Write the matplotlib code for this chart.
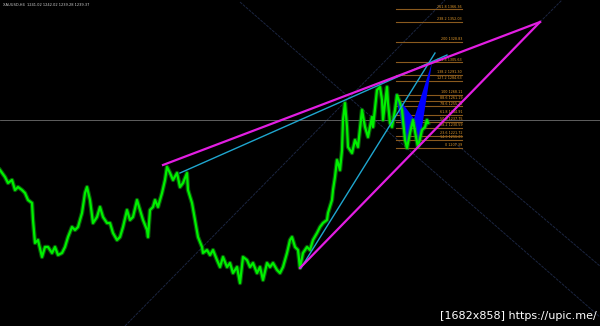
import matplotlib
matplotlib.use("Agg")
import matplotlib.pyplot as plt

# price path (bar index, price)
bars = [0, 5, 8, 12, 15, 18, 22, 25, 28, 32, 33, 35, 38, 42, 45, 48, 52, 55, 58, 62,
        65, 68, 72, 75, 78, 82, 85, 87, 90, 93, 97, 100, 103, 107, 110, 113, 117, 120, 123, 127,
        130, 133, 137, 140, 143, 147, 148, 150, 153, 155, 158, 162, 165, 167, 170, 173, 177, 180, 183, 187,
        188, 192, 195, 198, 202, 203, 207, 210, 213, 217, 220, 223, 227, 230, 233, 237, 240, 243, 247, 250,
        253, 257, 260, 263, 267, 270, 273, 277, 280, 283, 287, 290, 292, 295, 298, 300, 303, 307, 310, 313,
        317, 320, 323, 327, 328, 332, 333, 335, 337, 338, 340, 342, 343, 345, 347, 348, 352, 355, 358, 362,
        365, 368, 372, 373, 377, 380, 382, 383, 387, 388, 390, 392, 395, 397, 400, 402, 405, 407, 410, 413,
        416, 418, 422, 425, 427, 428]
prices = [1182.1, 1174.1, 1167.2, 1170.7, 1159.2, 1162.6, 1159.2, 1155.7, 1147.7, 1144.3,
          1124.8, 1098.4, 1101.8, 1082.3, 1093.8, 1093.8, 1086.9, 1093.8, 1084.6, 1086.9,
          1093.8, 1105.2, 1116.7, 1113.3, 1116.7, 1132.8, 1155.7, 1162.6, 1147.7, 1121.3,
          1128.2, 1139.7, 1128.2, 1121.3, 1121.3, 1109.8, 1101.8, 1105.2, 1116.7, 1136.2,
          1124.8, 1128.2, 1147.7, 1136.2, 1124.8, 1113.3, 1105.2, 1136.2, 1139.7, 1147.7,
          1139.7, 1155.7, 1170.7, 1185.6, 1178.7, 1170.7, 1178.7, 1162.6, 1167.2, 1178.7,
          1159.2, 1144.3, 1124.8, 1105.2, 1093.8, 1086.9, 1090.3, 1084.6, 1090.3, 1078.8,
          1070.8, 1082.3, 1070.8, 1075.4, 1063.9, 1070.8, 1052.4, 1082.3, 1078.8, 1070.8,
          1075.4, 1063.9, 1070.8, 1055.9, 1075.4, 1070.8, 1075.4, 1067.4, 1063.9, 1070.8,
          1086.9, 1101.8, 1105.2, 1093.8, 1090.3, 1069.7, 1086.9, 1093.8, 1090.3, 1101.8,
          1109.8, 1116.7, 1121.3, 1124.8, 1132.8, 1147.7, 1159.2, 1174.1, 1193.6, 1190.2,
          1182.1, 1205.1, 1239.5, 1259.0, 1231.5, 1208.5, 1201.6, 1216.6, 1208.5, 1251.0,
          1231.5, 1220.0, 1243.0, 1231.5, 1274.0, 1277.4, 1262.5, 1239.5, 1277.4, 1259.0,
          1236.1, 1231.5, 1251.0, 1268.1, 1259.0, 1251.0, 1216.6, 1207.4, 1224.6, 1239.5,
          1220.0, 1208.5, 1228.0, 1231.5, 1239.5, 1236.1]

# fibonacci levels
fib_ratios = ["0", "14.6", "23.6", "38.2", "50.0", "61.8", "78.6", "88.6", "100",
              "127.2", "138.2", "161.8", "200", "238.2", "261.8"]
fib_prices = [1207.39, 1216.26, 1221.72, 1230.59, 1237.75, 1244.91, 1255.12, 1261.19, 1268.11,
              1284.63, 1291.30, 1305.63, 1328.83, 1352.03, 1366.36]
fib_start, fib_end = 396, 462

# harmonic pattern X A B C D
pat_x = [395, 407, 414, 419, 432]
pat_y = [1270.0, 1207.4, 1241.0, 1208.5, 1305.6]

# trend lines (x1, y1, x2, y2)
magenta_lines = [(163, 1187.9, 540, 1352.0), (300, 1069.7, 540, 1352.0)]
cyan_lines = [(180, 1178.7, 447, 1314.1), (301, 1069.7, 435, 1316.4)]
faint_lines = [(240, 1374.9, 600, 1013.4), (455, 1213.1, 600, 1071.9),
               (125, 1003.1, 445, 1377.25), (540, 1352.0, 562, 1377.25)]
bid_price = 1239.3

fig = plt.figure(figsize=(6, 3.26), dpi=100, facecolor="black")
ax = fig.add_axes([0, 0, 1, 1])
ax.set_facecolor("black")
ax.set_xlim(0, 600)
ax.set_ylim(1003.1, 1377.25)
ax.axis("off")

# faint helper lines
for x1, y1, x2, y2 in faint_lines:
    ax.plot([x1, x2], [y1, y2], color="#1b2540", lw=0.7, ls=(0, (3, 1)), zorder=1)

# current price line
ax.axhline(bid_price, color="#6e6e6e", lw=0.6, zorder=1)

# fibo levels with labels
for r, p in zip(fib_ratios, fib_prices):
    ax.plot([fib_start, fib_end], [p, p], color="#8a5a1e", lw=0.8, zorder=2)
    ax.text(fib_end, p + 1.0, f"{r} {p:.2f}", color="#e39a2b", fontsize=2.4,
            ha="right", va="bottom", zorder=2)

# pattern triangles
ax.fill([pat_x[0], pat_x[1], pat_x[2]], [pat_y[0], pat_y[1], pat_y[2]], color="#0000ff", lw=0, zorder=3)
ax.fill([pat_x[2], pat_x[3], pat_x[4]], [pat_y[2], pat_y[3], pat_y[4]], color="#0000ff", lw=0, zorder=3)

# price (wide soft pass for the bar fuzz, then the core line)
ax.plot(bars, prices, color="#10a010", lw=3.2, alpha=0.55, zorder=4)
ax.plot(bars, prices, color="#00f000", lw=1.6, zorder=4)

for x1, y1, x2, y2 in cyan_lines:
    ax.plot([x1, x2], [y1, y2], color="#1fa6cf", lw=1.0, zorder=5)
for x1, y1, x2, y2 in magenta_lines:
    ax.plot([x1, x2], [y1, y2], color="#e21ee2", lw=1.6, zorder=6)

ax.text(3, 1371.5, "XAUUSD,H4  1241.02 1242.02 1239.28 1239.37", color="#cfcfcf",
        fontsize=2.6, ha="left", va="center")
fig.text(0.995, 0.03, "[1682x858] https://upic.me/", color="white", fontsize=8,
         ha="right", va="center")

fig.savefig("out.png", dpi=100, facecolor="black")
